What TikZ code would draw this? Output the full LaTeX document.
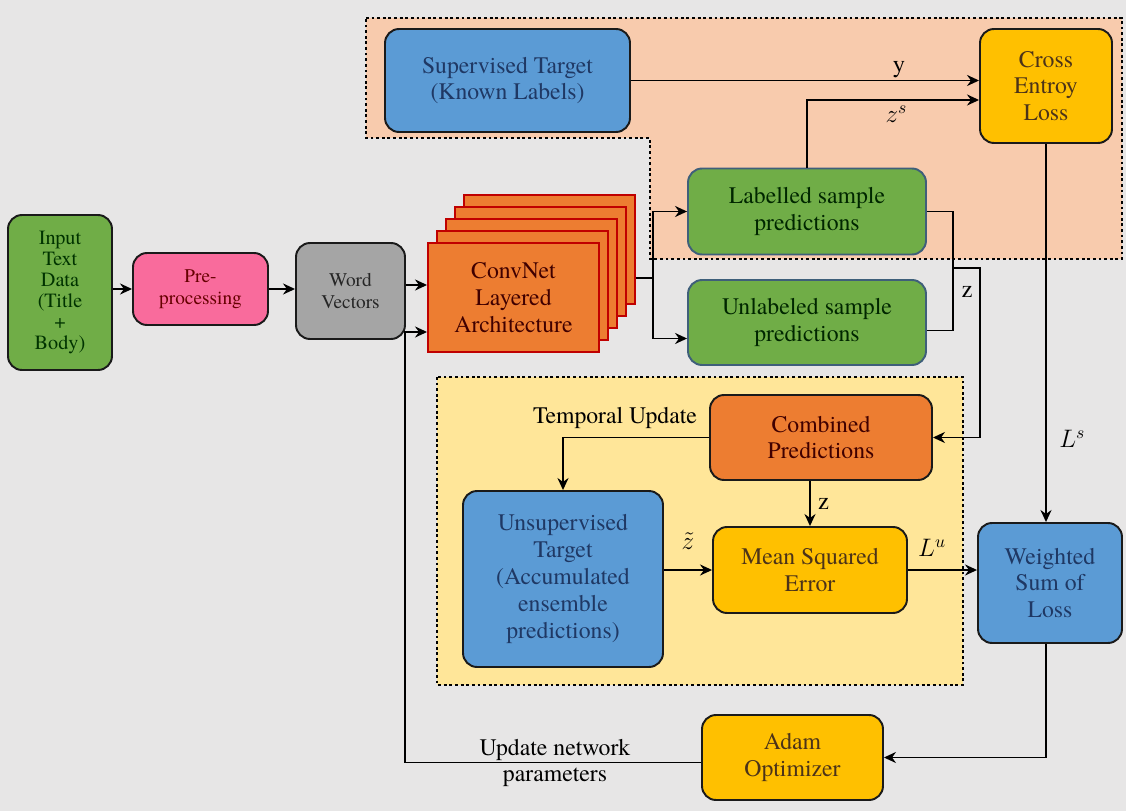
\documentclass[tikz,border=0pt]{standalone}
\usepackage{fontspec}
\setmainfont{texgyretermes}[Extension=.otf, UprightFont=*-regular, BoldFont=*-bold, ItalicFont=*-italic, BoldItalicFont=*-bolditalic]
\usepackage{xcolor}
\usepackage{tikz}
\usetikzlibrary{arrows.meta,positioning,calc}
\definecolor{canvas}{HTML}{E7E6E6}
\definecolor{leafgreen}{HTML}{70AD47}
\definecolor{hotpink}{HTML}{F96B9C}
\definecolor{midgray}{HTML}{A5A5A5}
\definecolor{burnt}{HTML}{ED7D31}
\definecolor{convred}{HTML}{C00000}
\definecolor{skyblue}{HTML}{5B9BD5}
\definecolor{gold}{HTML}{FFC000}
\definecolor{peach}{HTML}{F8CBAD}
\definecolor{cream}{HTML}{FFE699}
\definecolor{navy}{HTML}{1F3864}
\definecolor{slateedge}{HTML}{3F5F7A}
\definecolor{darkedge}{HTML}{1A1A1A}
\newcommand{\mainsize}{\fontsize{13.5}{15.3}\selectfont}
\newcommand{\smallsize}{\fontsize{11}{12.5}\selectfont}
\tikzset{
  stage/.style={draw=darkedge, line width=1.1pt, rounded corners=2.8mm, align=center, inner sep=2pt},
  inputbox/.style={stage, fill=leafgreen, text=green!20!black, font=\fontsize{11.5}{11.9}\selectfont, minimum width=20.8mm, minimum height=31mm},
  prepbox/.style={stage, fill=hotpink, text=red!40!black, font=\smallsize, minimum width=27mm, minimum height=14.4mm},
  wordbox/.style={stage, fill=midgray, text=black!85, font=\smallsize, minimum width=21.8mm, minimum height=19.2mm},
  convbox/.style={draw=convred, line width=1.1pt, fill=burnt, align=center, text=red!25!black, minimum width=34.2mm, minimum height=21.8mm},
  predbox/.style={stage, draw=slateedge, fill=leafgreen, text=green!15!black, minimum width=47.6mm, minimum height=17.2mm},
  targetbox/.style={stage, fill=skyblue, text=navy},
  lossbox/.style={stage, fill=gold, text=brown!40!black},
  combbox/.style={stage, fill=burnt, text=red!25!black},
  region/.style={line width=1.4pt, dash pattern=on 1.6pt off 1.6pt, draw=black},
  arrow/.style={-{Stealth[length=2.4mm, width=2.2mm]}, line width=1.1pt, draw=black},
  link/.style={line width=1.1pt, draw=black},
  mlabel/.style={font=\fontsize{14}{16}\selectfont, inner sep=1pt}
}

\begin{document}
\begin{tikzpicture}[x=0.02cm, y=-0.02cm, font=\mainsize]
  % canvas
  \fill[canvas] (0,0) rectangle (1126,811);
  \useasboundingbox (0,0) rectangle (1126,811);

  % shaded groups
  \draw[region, fill=peach] (366,18) -- (1122,18) -- (1122,259) -- (650,259) -- (650,138) -- (366,138) -- cycle;
  \draw[region, fill=cream] (437,377) rectangle (963,685);

  % input side
  \node[inputbox] (input) at (60,292.5) {Input\\Text\\Data\\(Title\\+\\Body)};
  \node[prepbox] (prep) at (200.5,289) {Pre-\\processing};
  \node[wordbox] (word) at (350.5,291) {Word\\Vectors};

  % convnet stack
  \foreach \k in {4,3,2,1} {
    \node[convbox] (conv\k) at (513.5+\k*9, 297.5-\k*12) {};
  }
  \node[convbox] (conv) at (513.5,297.5) {ConvNet\\Layered\\Architecture};

  % supervised part
  \node[targetbox, minimum width=49mm, minimum height=20.6mm] (sup) at (507.5,80.5) {Supervised Target\\(Known Labels)};
  \node[lossbox, minimum width=26.4mm, minimum height=22.8mm] (cross) at (1046,86) {Cross\\Entroy\\Loss};
  \node[predbox] (lab) at (807,211.5) {Labelled sample\\predictions};
  \node[predbox, minimum height=17mm] (unlab) at (807,322.5) {Unlabeled sample\\predictions};

  % unsupervised part
  \node[combbox, minimum width=44.4mm, minimum height=17mm] (comb) at (821,437.5) {Combined\\Predictions};
  \node[targetbox, minimum width=40mm, minimum height=35.2mm] (unsup) at (563,579) {Unsupervised\\Target\\(Accumulated\\ensemble\\predictions)};
  \node[lossbox, minimum width=38.8mm, minimum height=17.2mm] (mse) at (810,570) {Mean Squared\\Error};
  \node[targetbox, minimum width=28.8mm, minimum height=24mm] (wsum) at (1050,583) {Weighted\\Sum of\\Loss};
  \node[lossbox, minimum width=36.2mm, minimum height=17mm] (adam) at (792.5,757.5) {Adam\\Optimizer};
  \node (temporal) at (615,418) {Temporal Update};

  % forward flow
  \draw[arrow] (input.east |- prep.west) -- (prep.west);
  \draw[arrow] (prep.east) -- (prep.east -| word.west);
  \draw[arrow] ($(word.east)+(0,-6)$) -- ($(word.east -| conv.west)+(0,-6)$);
  \coordinate (split) at (653,278);
  \draw[link] (conv4.east |- split) -- (split);
  \draw[arrow] (split) |- (lab.west);
  \draw[arrow] (split) |- ($(unlab.west)+(0,16)$);

  \draw[arrow] (sup.east) -- node[pos=0.77, above, mlabel] {y} (sup.east -| cross.west);
  \draw[arrow] (lab.north) |- node[pos=0.76, below=2pt, mlabel] {$z^s$} ($(cross.west)+(0,14)$);

  % merge into combined predictions
  \coordinate (merge) at (953,268);
  \draw[link] (lab.east) -| (merge) |- ($(unlab.east)+(0,8)$);
  \draw[arrow] (merge) -- (980,268) |- (comb.east);
  \node[mlabel] (zmerge) at (967,292) {z};

  \draw[arrow] (comb.west) -| (unsup.north);
  \draw[arrow] (comb.south -| mse.north) -- node[right=3pt, mlabel] {z} (mse.north);
  \draw[arrow] (unsup.east |- mse.west) -- node[above=10pt, mlabel] {$\tilde{z}$} (mse.west);
  \draw[arrow] (mse.east) -- node[pos=0.35, above=6pt, mlabel] {$L^u$} (mse.east -| wsum.west);
  \draw[arrow] (cross.south) -- node[pos=0.78, right=6pt, mlabel] {$L^s$} (cross.south |- wsum.north);

  % optimisation loop
  \draw[arrow] (cross.south |- wsum.south) |- (adam.east);
  \coordinate (feed) at (405,332);
  \draw[arrow] ($(adam.west)+(0,5)$) -| (feed) -- (feed -| conv.west);
  \node[align=center] (update) at (555,763) {Update network\\parameters};
\end{tikzpicture}
\end{document}
